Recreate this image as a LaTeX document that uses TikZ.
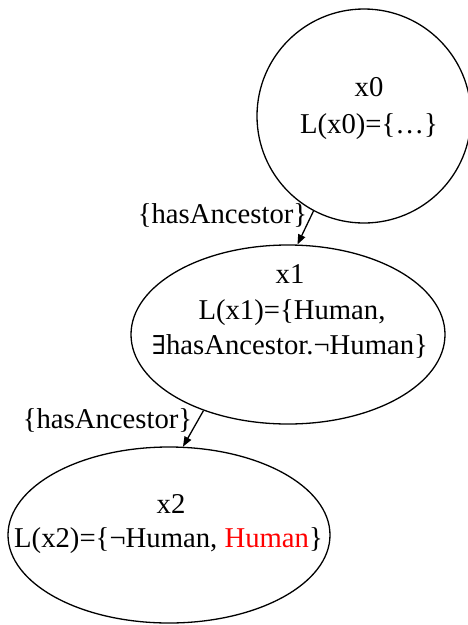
\documentclass[tikz,border=0pt]{standalone}
\usepackage{fontspec}
\setmainfont{Liberation Serif}
\newfontfamily\exfont{DejaVu Serif}
\usetikzlibrary{shapes.geometric,arrows.meta}
\begin{document}
\begin{tikzpicture}[x=1pt,y=-1pt,
  nodeshape/.style={draw,line width=1.3pt,inner sep=0pt,ellipse},
  txt/.style={inner sep=0pt,anchor=base,font=\fontsize{28.7}{35}\selectfont},
  edgeline/.style={line width=1.3pt,-{Triangle[length=10pt,width=7.5pt]}}]
\useasboundingbox (0,0) rectangle (468,625);
\node[nodeshape,circle,minimum size=214pt] (x0) at (364,116) {};
\node[nodeshape,minimum width=314pt,minimum height=179pt] (x1) at (288,334.5) {};
\node[nodeshape,minimum width=322pt,minimum height=176pt] (x2) at (169,535) {};
\node[txt] (t0a) at (369,96) {x0};
\node[txt] (t0b) at (369,133) {L(x0)=\{…\}};
\node[txt] (t1a) at (290,283) {x1};
\node[txt] (t1b) at (292,319) {L(x1)=\{Human,};
\node[txt] (t1c) at (290,354) {{\exfont\fontsize{26}{35}\selectfont ∃}hasAncestor.¬Human\}};
\node[txt] (t2a) at (171,513) {x2};
\node[txt] (t2b) at (168.5,547) {L(x2)=\{¬Human, \textcolor{red}{Human}\}};
\draw[edgeline] (x0.242) -- (x1.84);
\draw[edgeline] (x1.222) -- (x2.81);
\node[txt] (l1) at (222.5,223) {\{hasAncestor\}};
\node[txt] (l2) at (107.5,428) {\{hasAncestor\}};
\end{tikzpicture}
\end{document}
